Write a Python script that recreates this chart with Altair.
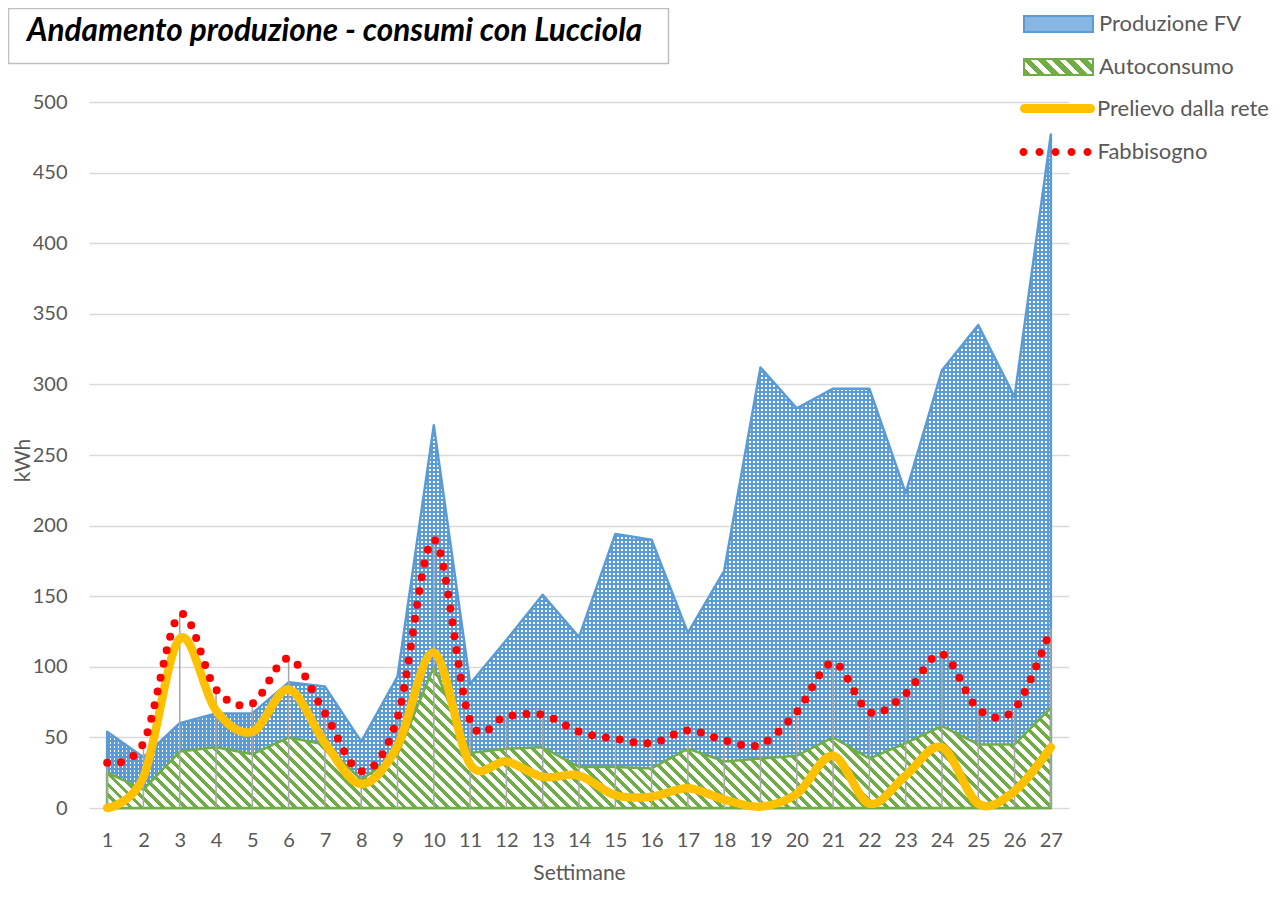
import altair as alt
import pandas as pd

# ---------------- data ----------------
weeks = list(range(1, 28))
produzione = [54, 36, 60, 67, 67, 89, 86, 47, 93, 271, 88, 119, 151, 121, 194,
              190, 124, 168, 312, 283, 297, 297, 223, 310, 342, 291, 477]
autoconsumo = [25, 13, 40, 43, 38, 50, 45, 20, 38, 100, 39, 42, 43, 29, 29,
               28, 42, 33, 35, 37, 50, 35, 46, 58, 45, 45, 71]
prelievo = [0, 22, 120, 69, 54, 84, 46, 17, 44, 110, 31, 33, 22, 23, 9,
            8, 14, 6, 1, 10, 37, 3, 23, 43, 3, 12, 43]
fabbisogno = [32, 46, 137, 84, 74, 106, 67, 26, 64, 190, 62, 65, 66, 54, 49,
              46, 55, 48, 45, 68, 103, 68, 81, 109, 70, 70, 127]
y_ticks = list(range(0, 501, 50))
series_names = ["Produzione FV", "Autoconsumo", "Prelievo dalla rete", "Fabbisogno"]
title_text = "Andamento produzione - consumi con Lucciola"

# ---------------- style ----------------
FONT = "Lato"
BLUE = "#5B9BD5"
GREEN = "#70AD47"
ORANGE = "#FFC000"
RED = "#FF0000"
GRID = "#D9D9D9"
TXT = "#595959"
W_PLOT, H_PLOT = 980, 706
X_DOM = [0.5, 27.5]
Y_DOM = [0, 500]
px_x = W_PLOT / (X_DOM[1] - X_DOM[0])
px_y = H_PLOT / (Y_DOM[1] - Y_DOM[0])


def stripe_stops(n, c1, c2, frac1):
    stops = []
    for i in range(n):
        a = round(i / n, 6)
        b = round((i + frac1) / n, 6)
        c = round((i + 1) / n, 6)
        stops += [{"offset": a, "color": c1}, {"offset": b, "color": c1},
                  {"offset": b, "color": c2}, {"offset": c, "color": c2}]
    stops[-1]["offset"] = 1.0
    return stops


def hatch(W, H, period_h, c1, c2, frac1):
    """diagonal '\\' stripes in the item's bounding box"""
    k = (W + H) / (W * W + H * H)
    n = max(1, round((W + H) / period_h))
    return {"gradient": "linear", "x1": 0, "y1": 1,
            "x2": round(W * k, 6), "y2": round(1 - H * k, 6),
            "stops": stripe_stops(n, c1, c2, frac1)}


W_area = (weeks[-1] - weeks[0]) * px_x
H_blue = max(produzione) * px_y
H_green = max(autoconsumo) * px_y

blue_vertical = {"gradient": "linear", "x1": 0, "y1": 0, "x2": 1, "y2": 0,
                 "stops": stripe_stops(round(W_area / 4), BLUE, "#FFFFFF", 0.6)}
blue_horizontal = {"gradient": "linear", "x1": 0, "y1": 0, "x2": 0, "y2": 1,
                   "stops": stripe_stops(round(H_blue / 4), BLUE, "rgba(91,155,213,0)", 0.5)}
green_hatch = hatch(W_area, H_green, 11, GREEN, "#FFFFFF", 0.45)
legend_hatch = hatch(69, 16, 14, GREEN, "#FFFFFF", 0.55)

df = pd.DataFrame({
    "Settimana": weeks,
    "Produzione": produzione,
    "Autoconsumo": autoconsumo,
    "Prelievo": prelievo,
    "Fabbisogno": fabbisogno,
})

x_axis = alt.Axis(values=weeks, format="d", title="Settimane", domain=False, ticks=False,
                  grid=False, labelFont=FONT, labelFontSize=20, labelColor=TXT,
                  labelPadding=22, titleFont=FONT, titleFontSize=21, titleColor=TXT,
                  titleFontWeight="normal", titleY=65, titleBaseline="middle")
y_axis = alt.Axis(values=y_ticks, title="kWh", domain=False, ticks=False, grid=True,
                  gridColor=GRID, gridWidth=1.5, labelFont=FONT, labelFontSize=20,
                  labelColor=TXT, labelPadding=22, titleFont=FONT, titleFontSize=21,
                  titleColor=TXT, titleFontWeight="normal", titleX=-66, titleY=358,
                  titleAlign="center", titleBaseline="middle", titleAngle=270)

X = alt.X("Settimana:Q", scale=alt.Scale(domain=X_DOM, nice=False, zero=False), axis=x_axis)


def Y(field):
    return alt.Y(f"{field}:Q", scale=alt.Scale(domain=Y_DOM, nice=False), axis=y_axis)


base = alt.Chart(df)

blue_a = base.mark_area(fill=blue_vertical, strokeWidth=0).encode(x=X, y=Y("Produzione"))
blue_b = base.mark_area(fill=blue_horizontal, stroke=BLUE, strokeWidth=2.5,
                        strokeJoin="round").encode(x=X, y=Y("Produzione"))
green = base.mark_area(fill=green_hatch, stroke=GREEN, strokeWidth=2.5,
                       strokeJoin="round").encode(x=X, y=Y("Autoconsumo"))
drops = base.mark_rule(color="#A6A6A6", strokeWidth=1.5).encode(
    x=X, y=Y("Fabbisogno"), y2=alt.datum(0))
orange = base.mark_line(color=ORANGE, strokeWidth=8.5, interpolate="cardinal",
                        strokeCap="round", strokeJoin="round").encode(x=X, y=Y("Prelievo"))
red = base.mark_line(color=RED, strokeWidth=8, interpolate="cardinal", strokeCap="round",
                     strokeDash=[0, 14]).encode(x=X, y=Y("Fabbisogno"))

# ---------------- title box ----------------
tdf = pd.DataFrame({"titolo": [title_text]})
title_box = alt.Chart(tdf).mark_rect(fill="white", stroke="#BFBFBF", strokeWidth=1.5).encode(
    x=alt.value(-80.5), x2=alt.value(579.5), y=alt.value(-93.5), y2=alt.value(-38.5))
title_mark = alt.Chart(tdf).mark_text(align="left", baseline="middle", font=FONT, fontSize=31.5,
                                      fontStyle="italic", fontWeight="bold",
                                      color="black").encode(
    x=alt.value(-62), y=alt.value(-70), text="titolo:N")

# ---------------- legends (one per series) ----------------
RECT = "M-1,-0.232H1V0.232H-1Z"
BAR = "M-0.88,-0.12H0.88A0.12,0.12 0 0 1 0.88,0.12H-0.88A0.12,0.12 0 0 1 -0.88,-0.12Z"
DOTS = "".join(f"M{c - 0.1:.2f},0A0.1,0.1 0 1,0 {c + 0.1:.2f},0A0.1,0.1 0 1,0 {c - 0.1:.2f},0Z"
               for c in (-0.8, -0.4, 0.0, 0.4, 0.8))


def leg(lx, ly, shape, size, offset, **kw):
    return alt.Legend(title=None, orient="none", legendX=lx, legendY=ly, padding=0,
                      symbolType=shape, symbolSize=size, symbolOpacity=1,
                      labelFont=FONT, labelFontSize=22, labelColor=TXT,
                      labelOffset=offset, labelLimit=400, **kw)


def legend_layer(name, channel, color, legend, **markkw):
    d = pd.DataFrame({"serie": [name]})
    enc = channel("serie:N", scale=alt.Scale(domain=[name], range=[color]), legend=legend)
    m = alt.Chart(d).mark_point(filled=True, **markkw)
    if channel is alt.Stroke:
        return m.encode(stroke=enc, x=alt.value(-3000), y=alt.value(-3000))
    return m.encode(fill=enc, x=alt.value(-3000), y=alt.value(-3000))


leg_prod = legend_layer(series_names[0], alt.Stroke, BLUE,
                        leg(934, -113.5, RECT, 69 * 69, 5, symbolStrokeWidth=2),
                        fill="#86B6E1")
leg_auto = legend_layer(series_names[1], alt.Stroke, GREEN,
                        leg(934, -70.5, RECT, 69 * 69, 5, symbolStrokeWidth=2),
                        fill=legend_hatch)
leg_prel = legend_layer(series_names[2], alt.Fill, ORANGE,
                        leg(931, -31, BAR, 75 * 75, 2, symbolStrokeWidth=0))
leg_fabb = legend_layer(series_names[3], alt.Fill, RED,
                        leg(926.5, 10, DOTS, 80 * 80, 2, symbolStrokeWidth=0))

chart = alt.layer(
    blue_a, blue_b, green, drops, orange, red, title_box, title_mark,
    leg_prod, leg_auto, leg_prel, leg_fabb,
).resolve_scale(
    fill="independent", stroke="independent"
).resolve_legend(
    fill="independent", stroke="independent"
).properties(
    width=W_PLOT, height=H_PLOT,
    autosize=alt.AutoSizeParams(type="none"),
    padding={"left": 81, "top": 94, "right": 210, "bottom": 79},
).configure_view(stroke=None)

chart.save("out.html", embed_options={"renderer": "svg", "actions": False})
